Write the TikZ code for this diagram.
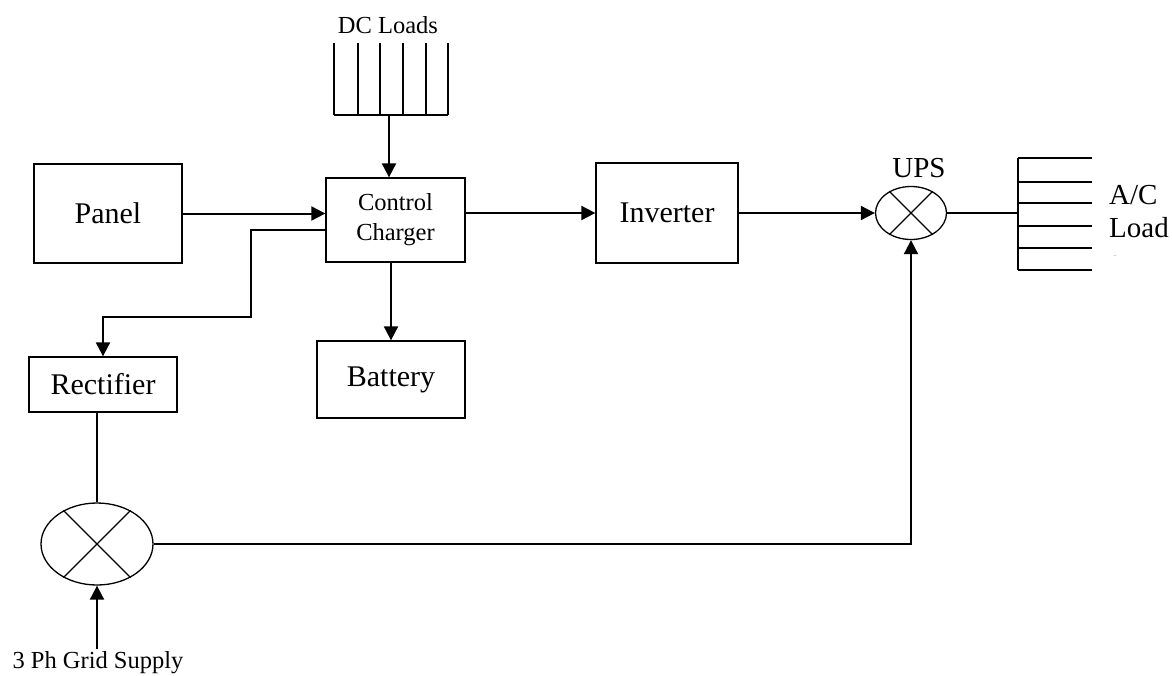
\documentclass[tikz,border=0pt]{standalone}
\usepackage{fontspec}
\setmainfont{Liberation Serif}
\usepackage{tikz}
\usetikzlibrary{arrows.meta,shapes.geometric}

\begin{document}
\begin{tikzpicture}[x=1pt, y=-1pt,
    block/.style={draw, line width=1.3pt, font=\fontsize{30}{33}\selectfont},
    smallblock/.style={block, font=\fontsize{24.5}{30}\selectfont, align=center},
    mixer/.style={draw, ellipse, line width=1.3pt, inner sep=0pt},
    flow/.style={line width=2pt, -{Triangle[length=14pt,width=14pt]}},
    wire/.style={line width=1.3pt},
    lbl/.style={font=\fontsize{24.5}{27}\selectfont, inner sep=0pt}]

    % page frame
    \useasboundingbox (0,0) rectangle (1172,675);

    % blocks
    \node[block, minimum width=148pt, minimum height=99pt] (panel) at (108,213.5) {Panel};
    \node[smallblock, minimum width=139pt, minimum height=84pt] (charger) at (395.5,220) {Control\\Charger};
    \node[block, minimum width=142pt, minimum height=100pt] (inverter) at (667,213) {Inverter};
    \node[block, minimum width=148pt, minimum height=77pt] (battery) at (391,379.5) {Battery};
    \node[block, minimum width=148pt, minimum height=55pt] (rectifier) at (103,384.5) {Rectifier};

    % mixers
    \node[mixer, minimum width=112pt, minimum height=82pt] (grid) at (97,544) {};
    \node[mixer, minimum width=71pt, minimum height=53pt] (ups) at (911,213) {};
    \foreach \m in {grid, ups} {
        \draw[wire] (\m.45) -- (\m.225);
        \draw[wire] (\m.135) -- (\m.315);
    }
    \node[font=\fontsize{29}{31}\selectfont, inner sep=0pt] (upslabel) at (919,168) {UPS};

    % DC loads
    \node[lbl] (dclabel) at (388,25) {DC Loads};
    \foreach \x in {334,358,380,403,426,448} {
        \draw[wire] (\x,43) -- (\x,115);
    }
    \draw[wire] (334,115) -- (448,115);
    \coordinate (dcbot) at (389,115);

    % A/C load
    \coordinate (acbus) at (1018,213);
    \draw[wire] (1018,158) -- (1018,270);
    \foreach \y in {158,182,203,226,248,270} {
        \draw[wire] (1018,\y) -- (1092,\y);
    }
    \node[font=\fontsize{29}{31}\selectfont, anchor=west, inner sep=0pt] (aclabel) at (1109,195) {A/C};
    \node[font=\fontsize{29}{31}\selectfont, anchor=west, inner sep=0pt] (loadlabel) at (1109,228) {Load};
    \node[text=gray!50, font=\fontsize{10}{10}\selectfont, inner sep=0pt] (dash) at (1115,257) {-};

    % grid supply
    \node[lbl] (supply) at (98,663) {3 Ph Grid Supply};

    % connectors
    \draw[flow] (panel.east) -- (panel.east -| charger.west);
    \draw[flow] (dcbot) -- (dcbot |- charger.north);
    \draw[flow] (inverter.west -| charger.east) -- (inverter.west);
    \draw[flow] (battery.north |- charger.south) -- (battery.north);
    \draw[flow] (inverter.east) -- (ups.west);
    \draw[flow] ([yshift=-10pt]charger.west) -| (251,317) -| (rectifier.north);
    \draw[wire] (grid.north |- rectifier.south) -- (grid.north);
    \draw[flow] ([yshift=3pt]supply.north -| grid.south) -- (grid.south);
    \draw[flow] (grid.east) -| (ups.south);
    \draw[wire] (ups.east) -- (acbus);
\end{tikzpicture}
\end{document}
